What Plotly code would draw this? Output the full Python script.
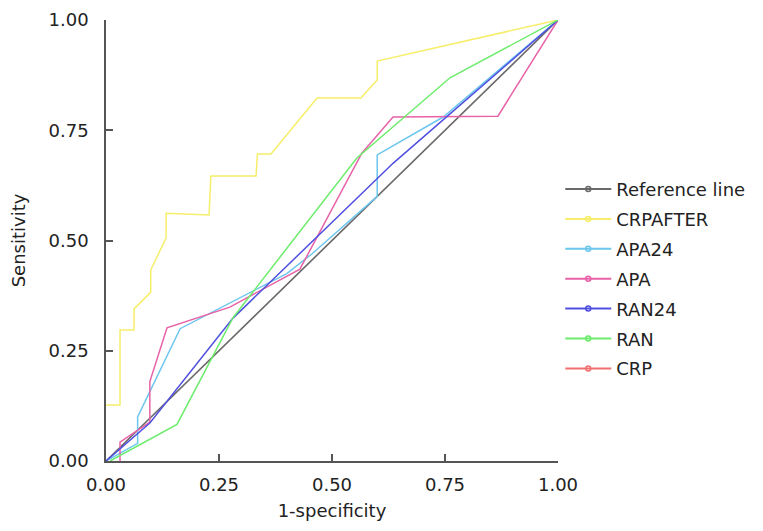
import plotly.graph_objects as go

# ROC curve data (1-specificity, sensitivity)
ref_x = [0, 1]
ref_y = [0, 1]

crpafter_x = [0, 0.031, 0.031, 0.062, 0.062, 0.099, 0.099, 0.133, 0.133, 0.228, 0.232, 0.332, 0.335, 0.365, 0.467, 0.564, 0.600, 0.600, 1.0]
crpafter_y = [0.127, 0.127, 0.297, 0.297, 0.345, 0.383, 0.433, 0.506, 0.562, 0.558, 0.646, 0.646, 0.696, 0.696, 0.823, 0.823, 0.864, 0.907, 1.0]

apa24_x = [0, 0.070, 0.070, 0.164, 0.400, 0.456, 0.600, 0.600, 0.746, 1.0]
apa24_y = [0, 0.040, 0.100, 0.300, 0.425, 0.470, 0.600, 0.694, 0.780, 1.0]

apa_x = [0.031, 0.031, 0.097, 0.097, 0.135, 0.274, 0.429, 0.566, 0.635, 0.867, 1.0]
apa_y = [0, 0.043, 0.088, 0.180, 0.302, 0.349, 0.435, 0.698, 0.780, 0.782, 1.0]

ran24_x = [0, 0.097, 0.281, 0.635, 1.0]
ran24_y = [0, 0.086, 0.324, 0.675, 1.0]

ran_x = [0.009, 0.157, 0.281, 0.555, 0.761, 1.0]
ran_y = [0, 0.083, 0.325, 0.687, 0.869, 1.0]

crp_x = [0, 1]
crp_y = [0, 1]

x_ticks = [0, 0.25, 0.5, 0.75, 1.0]
y_ticks = [0, 0.25, 0.5, 0.75, 1.0]

series = [
    ("CRP", crp_x, crp_y, "#f07070", 1.0),
    ("Reference line", ref_x, ref_y, "#6a6a6a", 1.6),
    ("CRPAFTER", crpafter_x, crpafter_y, "#f6ee6a", 1.5),
    ("APA24", apa24_x, apa24_y, "#6cc6ee", 1.5),
    ("APA", apa_x, apa_y, "#e862a8", 1.5),
    ("RAN24", ran24_x, ran24_y, "#5050e0", 1.5),
    ("RAN", ran_x, ran_y, "#6cec6c", 1.5),
]

legend_order = ["Reference line", "CRPAFTER", "APA24", "APA", "RAN24", "RAN", "CRP"]

fig = go.Figure()
for name, xs, ys, col, w in series:
    fig.add_trace(go.Scatter(x=xs, y=ys, mode="lines", name=name,
                             line=dict(color=col, width=w), showlegend=False,
                             hoverinfo="skip"))

colors = {s[0]: s[3] for s in series}
for name in legend_order:
    fig.add_trace(go.Scatter(x=[None], y=[None], mode="lines+markers", name=name,
                             legendgroup=name,
                             line=dict(color=colors[name], width=2),
                             marker=dict(symbol="circle-open", size=5, color=colors[name],
                                         line=dict(width=1.5, color=colors[name]))))

axis_common = dict(
    range=[0, 1], automargin=False,
    showline=True, linecolor="#555555", linewidth=1.5,
    ticks="inside", ticklen=7, tickcolor="#555555", tickwidth=1.5,
    showgrid=False, zeroline=False, tickformat=".2f",
    tickfont=dict(family="DejaVu Sans", size=18, color="#222222"),
)

# page body has an 8px offset; compensate so the plot area lands where the reference has it
fig.update_layout(
    width=755, height=523,
    margin=dict(l=98, r=205, t=12, b=70),
    plot_bgcolor="white", paper_bgcolor="white",
    xaxis=dict(tickvals=x_ticks, ticklabelstandoff=7,
               title=dict(text="1-specificity", standoff=10,
                          font=dict(family="DejaVu Sans", size=18, color="#222222")),
               **axis_common),
    yaxis=dict(tickvals=y_ticks, ticklabelstandoff=12,
               title=dict(text="Sensitivity", standoff=19,
                          font=dict(family="DejaVu Sans", size=18, color="#222222")),
               **axis_common),
    legend=dict(x=1.005, y=0.658, xanchor="left", yanchor="top",
                font=dict(family="DejaVu Sans", size=18, color="#222222"),
                bgcolor="rgba(0,0,0,0)", itemwidth=46, tracegroupgap=3.5),
    showlegend=True,
)

fig.write_html("out.html")
